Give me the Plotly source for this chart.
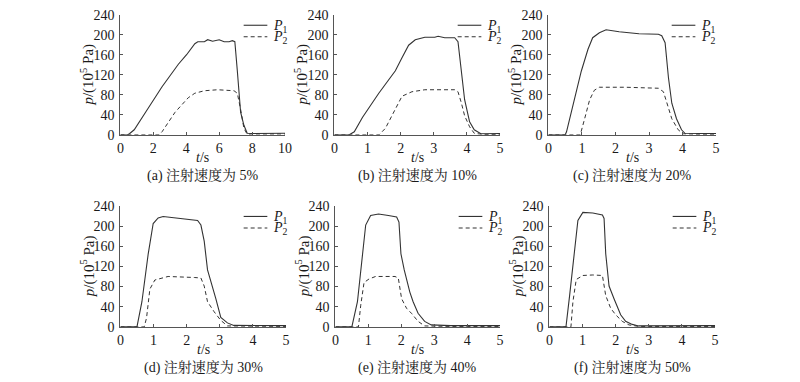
import plotly.graph_objects as go

# ---------------- data ----------------
captions = ["(a) 注射速度为 5%", "(b) 注射速度为 10%", "(c) 注射速度为 20%",
            "(d) 注射速度为 30%", "(e) 注射速度为 40%", "(f) 注射速度为 50%"]
x_max = [10, 5, 5, 5, 5, 5]
x_tickvals = [[0, 2, 4, 6, 8, 10], [0, 1, 2, 3, 4, 5], [0, 1, 2, 3, 4, 5],
              [0, 1, 2, 3, 4, 5], [0, 1, 2, 3, 4, 5], [0, 1, 2, 3, 4, 5]]
y_tickvals = [0, 40, 80, 120, 160, 200, 240]

# (a) 5%
a_t1 = [0, 0.44, 0.55, 0.84, 1.53, 2.53, 3.52, 4.02, 4.52, 4.7, 5.1, 5.3, 5.6, 6.0, 6.3, 6.6, 6.8, 6.95,
        7.1, 7.3, 7.5, 7.7, 8.0, 8.5, 9.0, 9.5, 10]
a_p1 = [0, 0, 2, 10, 45, 96, 141, 160, 182, 186, 186, 190, 187, 190, 186, 186, 188, 186,
        128, 45, 19, 3, 2.5, 3, 2.5, 3, 3]
a_t2 = [0, 2.35, 2.53, 3.32, 4.12, 4.52, 5.1, 5.9, 6.9, 7.1, 7.3, 7.5, 7.7, 8.0, 9.0, 10]
a_p2 = [0, 0, 6, 45, 74, 83, 88, 90, 88, 83, 51, 13, 1, 1.5, 1.5, 1.5]

# (b) 10%
b_t1 = [0, 0.45, 0.6, 0.85, 1.34, 1.84, 2.04, 2.24, 2.44, 2.73, 3.03, 3.13, 3.33, 3.63, 3.73,
        3.83, 3.93, 4.08, 4.22, 4.42, 4.7, 5]
b_p1 = [0, 0, 6, 35, 83, 128, 154, 179, 190, 195, 195, 197, 194, 194, 186,
        128, 70, 26, 10, 2, 2.5, 2.5]
b_t2 = [0, 1.35, 1.54, 1.84, 2.04, 2.34, 2.73, 3.63, 3.73, 3.83, 3.93, 4.08, 4.22, 4.5, 5]
b_p2 = [0, 0, 13, 51, 77, 86, 90, 90, 86, 64, 38, 16, 3, 0.5, 0.5]

# (c) 20%
c_t1 = [0, 0.5, 0.54, 0.74, 0.98, 1.18, 1.32, 1.52, 1.72, 2.11, 2.7, 3.28, 3.38, 3.48, 3.58,
        3.68, 3.82, 3.97, 4.07, 4.5, 5]
c_p1 = [0, 0, 6, 63, 127, 171, 194, 204, 210, 206, 202, 201, 198, 184, 114,
        63, 32, 10, 3, 2.5, 2.5]
c_t2 = [0, 0.95, 1.08, 1.23, 1.37, 1.52, 2.3, 3.28, 3.43, 3.53, 3.68, 3.87, 4.02, 4.5, 5]
c_p2 = [0, 0, 32, 70, 89, 95, 95, 93, 86, 63, 32, 10, 2, 1, 1]

# (d) 30%
d_t1 = [0, 0.5, 0.65, 0.84, 0.99, 1.14, 1.29, 1.74, 2.23, 2.33, 2.43, 2.53, 2.63, 2.78, 2.88,
        3.03, 3.23, 3.42, 4.0, 5]
d_p1 = [0, 0, 50, 145, 205, 216, 219, 216, 213, 211, 202, 170, 113, 81, 56,
        19, 8, 3, 2.5, 2.5]
d_t2 = [0, 0.72, 0.79, 0.89, 1.04, 1.24, 1.44, 2.23, 2.43, 2.53, 2.63, 2.83, 3.03, 3.23, 4.0, 5]
d_p2 = [0, 0, 18, 75, 93, 97, 100, 98, 97, 81, 50, 30, 13, 2, 1, 1]

# (e) 40%
e_t1 = [0, 0.5, 0.67, 0.82, 0.92, 1.07, 1.31, 1.61, 1.86, 1.93, 1.99, 2.09, 2.26, 2.36, 2.51,
        2.71, 2.91, 3.5, 5]
e_p1 = [0, 0, 50, 145, 202, 221, 224, 221, 218, 208, 145, 113, 69, 50, 27,
        11, 4, 2.5, 2.5]
e_t2 = [0, 0.7, 0.77, 0.87, 1.02, 1.22, 1.81, 1.91, 2.01, 2.16, 2.31, 2.51, 2.71, 3.5, 5]
e_p2 = [0, 0, 43, 88, 95, 100, 100, 97, 56, 37, 27, 11, 2, 1, 1]

# (f) 50%
f_t1 = [0, 0.5, 0.61, 0.76, 0.86, 1.01, 1.31, 1.6, 1.65, 1.7, 1.8, 1.95, 2.05, 2.15, 2.3,
        2.5, 2.69, 3.5, 5]
f_p1 = [0, 0, 62, 145, 211, 227, 226, 222, 215, 145, 81, 56, 40, 24, 11,
        5, 2, 2, 2.5]
f_t2 = [0, 0.65, 0.71, 0.81, 1.01, 1.31, 1.6, 1.7, 1.85, 2.0, 2.2, 2.4, 2.7, 5]
f_p2 = [0, 0, 50, 94, 102, 103, 102, 62, 37, 24, 11, 4, 1, 1]

series_p1 = [(a_t1, a_p1), (b_t1, b_p1), (c_t1, c_p1), (d_t1, d_p1), (e_t1, e_p1), (f_t1, f_p1)]
series_p2 = [(a_t2, a_p2), (b_t2, b_p2), (c_t2, c_p2), (d_t2, d_p2), (e_t2, e_p2), (f_t2, f_p2)]

# ---------------- layout geometry (pixels) ----------------
W, H = 800, 382
x_px = [(118, 285), (335, 503), (552, 722), (118, 286), (336, 503), (553, 721)]
y_px = [(8, 133), (8, 133), (8, 133), (207, 333), (207, 333), (207, 333)]

SERIF = "Liberation Serif, Times New Roman, serif"
CJK = "Liberation Serif, Noto Serif CJK SC, Noto Sans CJK SC, serif"
AX_COLOR = "#555555"
LINE_COLOR = "#333333"
TXT = "#1a1a1a"

fig = go.Figure()
annotations = []
shapes = []

for i in range(6):
    n = "" if i == 0 else str(i + 1)
    xa, ya = "x" + n, "y" + n
    x0, x1 = x_px[i]
    yt, yb = y_px[i]
    fig.add_trace(go.Scatter(x=series_p1[i][0], y=series_p1[i][1], mode="lines",
                             line=dict(color=LINE_COLOR, width=1.1),
                             xaxis=xa, yaxis=ya, showlegend=False))
    fig.add_trace(go.Scatter(x=series_p2[i][0], y=series_p2[i][1], mode="lines",
                             line=dict(color=LINE_COLOR, width=1.0, dash="4px,3px"),
                             xaxis=xa, yaxis=ya, showlegend=False))
    axis_common = dict(showgrid=False, zeroline=False, showline=True, linecolor=AX_COLOR,
                       linewidth=1, ticks="inside", ticklen=3, tickcolor=AX_COLOR,
                       tickfont=dict(family=SERIF, size=14, color=TXT))
    fig.update_layout(**{
        "xaxis" + n: dict(domain=[x0 / W, x1 / W], range=[0, x_max[i]], anchor=ya,
                          tickvals=x_tickvals[i], tickmode="array", **axis_common),
        "yaxis" + n: dict(domain=[(H - yb) / H, (H - yt) / H], range=[0, 240], anchor=xa,
                          tickvals=y_tickvals, tickmode="array", ticklabelstandoff=2,
                          **axis_common),
    })
    xc = (x0 + x1) / 2
    # y title
    annotations.append(dict(x=(x0 - 33) / W, y=(H - (yt + yb) / 2) / H, xref="paper", yref="paper",
                            text="<i>p</i>/(10<sup>5</sup> Pa)", textangle=-90, showarrow=False,
                            xanchor="center", yanchor="middle",
                            font=dict(family=SERIF, size=15, color=TXT)))
    # x title
    annotations.append(dict(x=xc / W, y=(H - (yb + 24)) / H, xref="paper", yref="paper",
                            text="<i>t</i>/s", showarrow=False, xanchor="center", yanchor="middle",
                            font=dict(family=SERIF, size=14, color=TXT)))
    # caption
    annotations.append(dict(x=xc / W, y=(H - (yb + 42)) / H, xref="paper", yref="paper",
                            text=captions[i], showarrow=False, xanchor="center", yanchor="middle",
                            font=dict(family=CJK, size=14, color=TXT)))
    # legend
    for k, (lab, dash) in enumerate([("<i>P</i><sub>1</sub>", "solid"), ("<i>P</i><sub>2</sub>", "4px,3px")]):
        ly = yt + 11 + 12 * k
        shapes.append(dict(type="line", xref="paper", yref="paper",
                           x0=(x0 + 125) / W, x1=(x0 + 149) / W, y0=(H - ly) / H, y1=(H - ly) / H,
                           line=dict(color=LINE_COLOR, width=1.1, dash=dash)))
        annotations.append(dict(x=(x0 + 153) / W, y=(H - ly - 1) / H, xref="paper", yref="paper",
                                text=lab, showarrow=False, xanchor="left", yanchor="middle",
                                font=dict(family=SERIF, size=14, color=TXT)))

fig.update_layout(width=W, height=H, margin=dict(l=0, r=0, t=0, b=0),
                  paper_bgcolor="white", plot_bgcolor="white",
                  annotations=annotations, shapes=shapes, showlegend=False)

fig.write_html("out.html", config={"displayModeBar": False},
               post_script="document.body.style.margin='0';document.body.style.overflow='hidden';")
